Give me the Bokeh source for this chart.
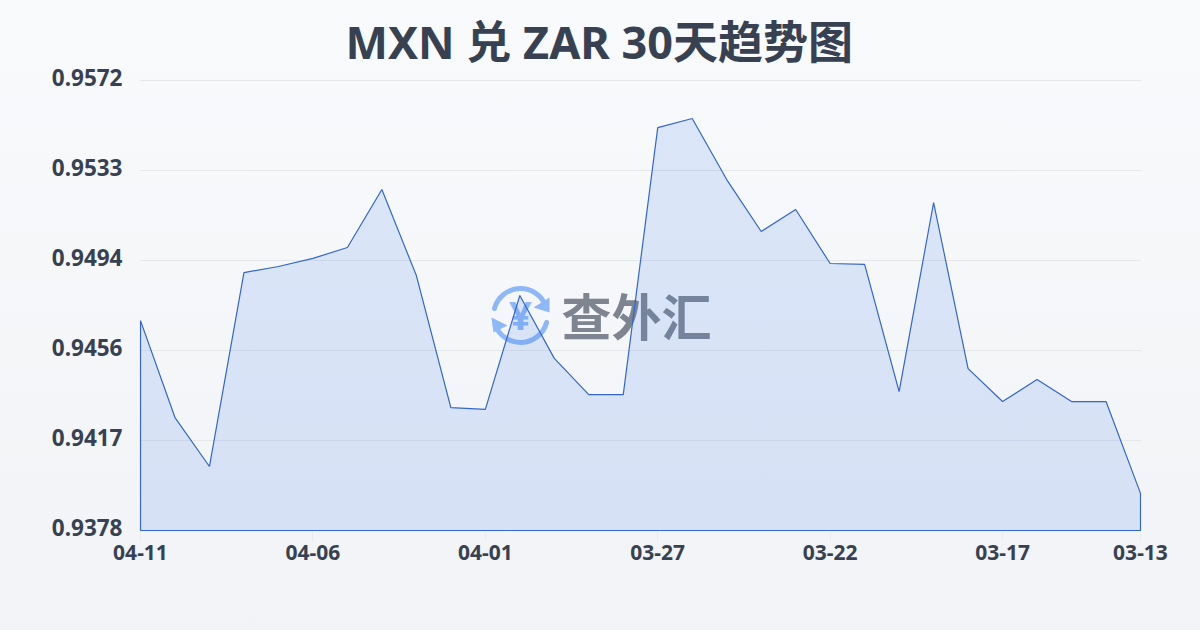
from bokeh.plotting import figure
from bokeh.embed import file_html
from bokeh.resources import INLINE
from bokeh.models import FixedTicker, Label, LinearAxis, NumeralTickFormatter, Range1d, Title
import math

TITLE = "MXN 兑 ZAR 30天趋势图"
WATERMARK = "查外汇"
dates = ["04-11","04-10","04-09","04-08","04-07","04-06","04-05","04-04","04-03","04-02",
         "04-01","03-31","03-30","03-29","03-28","03-27","03-26","03-25","03-24","03-23",
         "03-22","03-21","03-20","03-19","03-18","03-17","03-16","03-15","03-14","03-13"]
rates = [0.94685,0.94267,0.94056,0.94892,0.94918,0.94953,0.95000,0.95250,0.94879,0.94310,
         0.94302,0.94793,0.94522,0.94366,0.94366,0.95517,0.95556,0.95293,0.95069,0.95164,
         0.94931,0.94927,0.94379,0.95194,0.94478,0.94336,0.94431,0.94336,0.94336,0.93940]
y_ticks = [0.9378,0.94168,0.94556,0.94944,0.95332,0.9572]
x_tick_idx = [0,5,10,15,20,25,29]
y_min, y_max = 0.9378, 0.9572

FONT = "'Noto Sans', 'Noto Sans CJK SC'"
INK = "#374151"
LINE = "#3366cc"
LOGO = "#8fb8f8"

W, H = 1200, 630
L, R, T, B = 139, 59, 69, 99
n = len(rates)
x_px = (n-1)/1000
y_px = (y_max-y_min)/450
LABEL_UP = 3

p = figure(width=W, height=H, output_backend="svg", toolbar_location=None,
           x_range=Range1d(-x_px, n-1+x_px), y_range=Range1d(y_min-y_px, y_max+11*y_px),
           min_border_left=L, min_border_right=R, min_border_top=T, min_border_bottom=B,
           y_axis_location=None, tools="")
p.background_fill_color = None
p.border_fill_color = None
p.outline_line_color = None

p.title = Title(text=TITLE, align="left", offset=345-L, standoff=-5,
                text_font=FONT, text_font_style="bold", text_font_size="45px", text_color=INK)

def dx(px): return (px-140)*x_px
def dy(py): return y_max-(py-80)*y_px
def sx(px): return px-L
def sy(py): return H-B-py

p.add_layout(Label(x=sx(636), y=sy(313), x_units="screen", y_units="screen", text=WATERMARK,
                   text_font="Noto Sans CJK SC", text_font_style="bold", text_font_size="50px",
                   text_color="#7f8590", text_align="center", text_baseline="middle", level="underlay"))
p.add_layout(Label(x=sx(520), y=sy(314), x_units="screen", y_units="screen", text="¥",
                   text_font="Noto Sans", text_font_style="bold", text_font_size="40px",
                   text_color=LOGO, text_align="center", text_baseline="middle", level="underlay"))
p.arc(x=[dx(520)], y=[dy(315)], radius=[27], radius_units="screen",
      start_angle=[math.radians(20)], end_angle=[math.radians(165)],
      line_color=LOGO, line_width=5, line_cap="round", level="underlay")
p.arc(x=[dx(520)], y=[dy(315)], radius=[27], radius_units="screen",
      start_angle=[math.radians(200)], end_angle=[math.radians(345)],
      line_color=LOGO, line_width=5, line_cap="round", level="underlay")
p.patch([dx(549),dx(549),dx(533)], [dy(297),dy(312),dy(307)], fill_color=LOGO, line_color=None, level="underlay")
p.patch([dx(491),dx(507),dx(493)], [dy(317),dy(325),dy(332)], fill_color=LOGO, line_color=None, level="underlay")

xs = list(range(n))
p.patch(xs + [xs[-1], xs[0]], rates + [y_min, y_min],
        fill_color="#3b76e8", fill_alpha=0.15, line_color=LINE, line_width=1.2)

p.xgrid.visible = False
p.ygrid.ticker = FixedTicker(ticks=y_ticks)
p.ygrid.grid_line_color = "#e5e7eb"
p.ygrid.grid_line_width = 1

p.extra_y_ranges = {"labels": Range1d(y_min-(1+LABEL_UP)*y_px, y_max+(11-LABEL_UP)*y_px)}
ax = LinearAxis(y_range_name="labels", ticker=FixedTicker(ticks=y_ticks),
                formatter=NumeralTickFormatter(format="0.0000"))
ax.axis_line_color = None
ax.major_tick_line_color = None
ax.minor_tick_line_color = None
ax.major_label_standoff = 11
ax.major_label_text_font = FONT
ax.major_label_text_font_style = "bold"
ax.major_label_text_font_size = "22.5px"
ax.major_label_text_color = INK
p.add_layout(ax, "left")

bx = p.xaxis[0]
bx.ticker = FixedTicker(ticks=x_tick_idx)
bx.major_label_overrides = {i: dates[i] for i in x_tick_idx}
bx.axis_line_color = None
bx.major_tick_line_color = "#e9ebf0"
bx.major_tick_out = 10
bx.major_tick_in = 0
bx.minor_tick_line_color = None
bx.major_label_standoff = 3
bx.major_label_text_font = FONT
bx.major_label_text_font_style = "bold"
bx.major_label_text_font_size = "21px"
bx.major_label_text_color = INK

html = file_html(p, INLINE)
style = "<style>html{height:100%;background:linear-gradient(180deg,#f8fafc 0%,#f1f3f6 100%);}body{background:transparent;overflow:hidden;}</style>"
html = html.replace("</head>", style + "</head>", 1)
open("out.html", "w").write(html)
